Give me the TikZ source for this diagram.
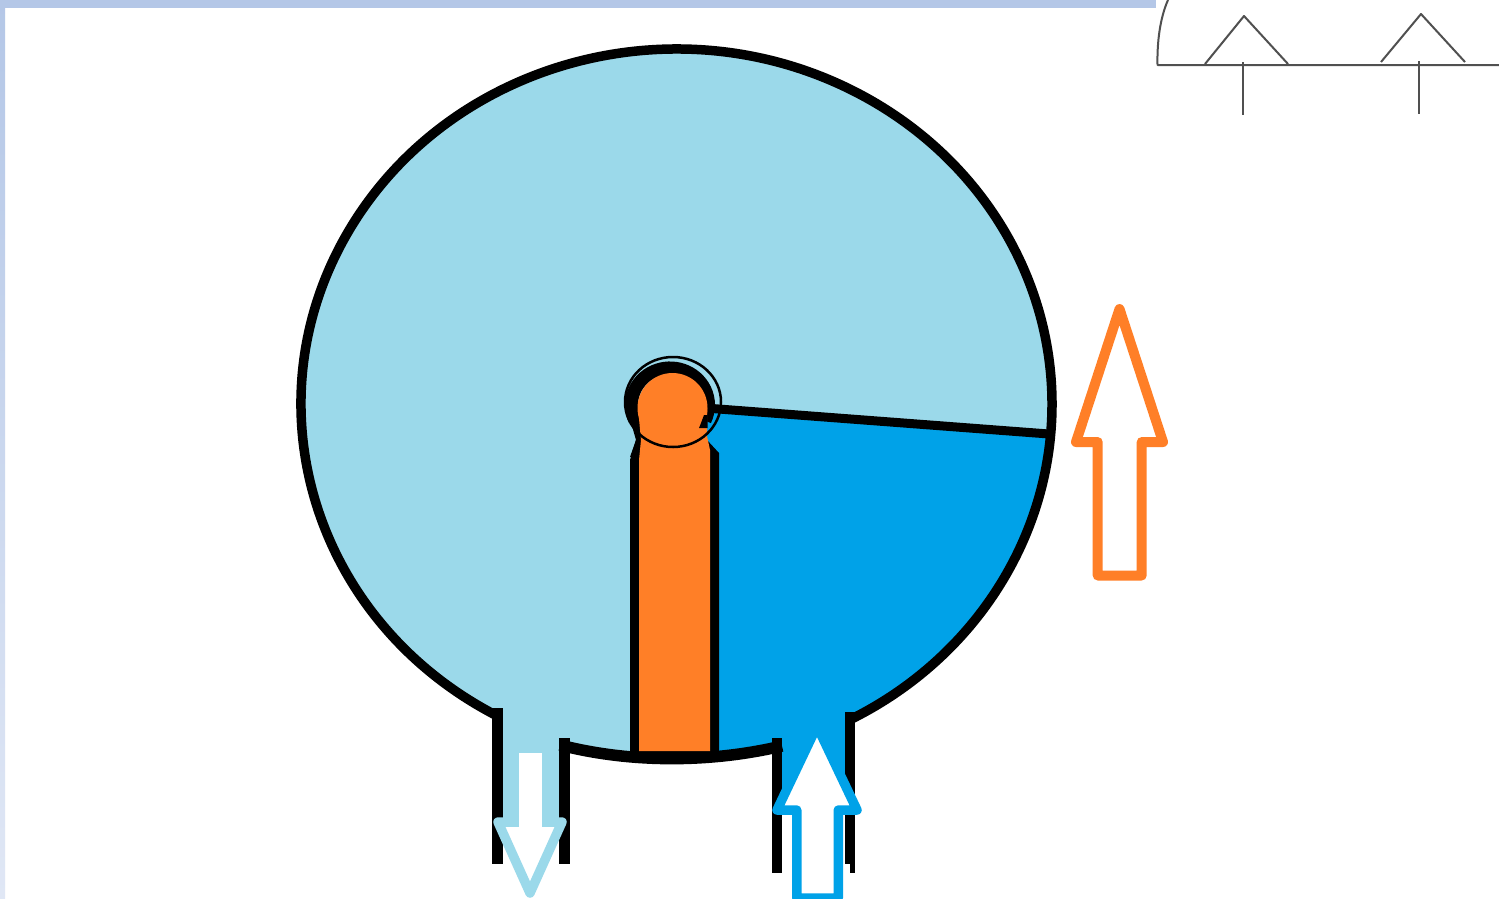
\documentclass[tikz,border=0pt]{standalone}
\definecolor{lightwater}{HTML}{9BD9EA}
\definecolor{darkwater}{HTML}{00A2E8}
\definecolor{pump}{HTML}{FF7F27}
\definecolor{strip}{HTML}{B4C7E7}
\definecolor{stripend}{HTML}{E0E7F5}
\definecolor{thinline}{HTML}{505050}
\tikzset{
  wall/.style={black,line width=10.5pt,line cap=butt},
  hull/.style={black,line width=9.5pt,line cap=butt},
  flowarrow/.style={line width=9.5pt,line join=round,fill=white},
  schem/.style={thinline,line width=2pt,line join=round}
}
\begin{document}
\begin{tikzpicture}[x=1pt,y=-1pt]
\useasboundingbox (0,0) rectangle (1499,898);
\fill[white] (0,0) rectangle (1499,898);
% slide frame
\shade[top color=strip,bottom color=stripend] (0,0) rectangle (5,898);
\fill[strip] (0,0) rectangle (1155.5,8);
% schematic fragment
\draw[schem] (1168,0) .. controls (1160,18) and (1157,42) .. (1157.5,65) -- (1499,65);
\draw[schem] (1205,64) -- (1244,16) -- (1288,64);
\draw[schem] (1381,62) -- (1421,14) -- (1465,62);
\draw[schem] (1242.5,62) -- (1242.5,115);
\draw[schem] (1418.5,61) -- (1418.5,114);
% light water body
\fill[lightwater] (497,715.8) arc[start angle=241.44,end angle=0,x radius=375.5pt,y radius=355pt]
  arc[start angle=0,end angle=-62.57,x radius=375.5pt,y radius=356pt]
  -- (850,800) -- (780,800) -- (780,746) .. controls (710,762) and (630,762) .. (562,745)
  -- (562,822) -- (500,822) -- cycle;
% dark water
\fill[darkwater] (700,420) -- (712,408) -- (1050.7,434)
  arc[start angle=-4.83,end angle=-62.57,x radius=375.5pt,y radius=356pt]
  -- (846,812) -- (780,812) -- (780,746) .. controls (760,751) and (735,755) .. (700,757) -- cycle;
% hull
\draw[hull] (497,715.8) arc[start angle=241.44,end angle=0,x radius=375.5pt,y radius=355pt]
  arc[start angle=0,end angle=-62.57,x radius=375.5pt,y radius=356pt];
\draw[black,line width=11.5pt] (560,745) .. controls (630,763) and (710,763) .. (782,746);
\draw[black,line width=9pt] (712,408.5) -- (1049,434);
% pipe walls
\draw[wall] (497.5,708) -- (497.5,864);
\draw[wall] (564.5,738) -- (564.5,864);
\draw[wall] (777,738) -- (777,873);
\draw[wall] (850,712) -- (850,864);
\draw[black,line width=5pt] (852.5,860) -- (852.5,873);
% pump body
\draw[black,line width=13pt] (635.1,420.6) arc[start angle=205,end angle=-25,x radius=38.5pt,y radius=37pt];
\fill[black] (628,412) -- (641,412) -- (642,441) -- (640,457) -- (630,457) -- (636,440) -- cycle;
\fill[black] (636,440) -- (630,460) -- (630,754) -- (719,754) -- (719,453) -- (707,440) -- cycle;
\fill[pump] (672.5,408) circle[radius=35];
\fill[pump] (638,408) -- (641,440) -- (639,460) -- (639,751) -- (710,751) -- (710,450) -- (707,436) -- (707,408) -- cycle;
\fill[black] (704,415) -- (707.5,415) -- (707.5,428) -- (699,428) -- (701,423) -- cycle;
\draw[black,line width=2.5pt] (673,402) ellipse[x radius=48,y radius=45];
% flow arrows
\draw[lightwater,flowarrow] (498,822) -- (562,822) -- (530,893) -- cycle;
\fill[white] (519,753) rectangle (542,830);
\draw[darkwater,flowarrow] (817,726) -- (857,810) -- (838.25,810) -- (838.25,898) -- (796.75,898) -- (796.75,810) -- (777,810) -- cycle;
\draw[pump,flowarrow,line width=10pt] (1119.5,309) -- (1163,442) -- (1141.7,442) -- (1141.7,575.5) -- (1097.7,575.5) -- (1097.7,442) -- (1076,442) -- cycle;
\end{tikzpicture}
\end{document}
